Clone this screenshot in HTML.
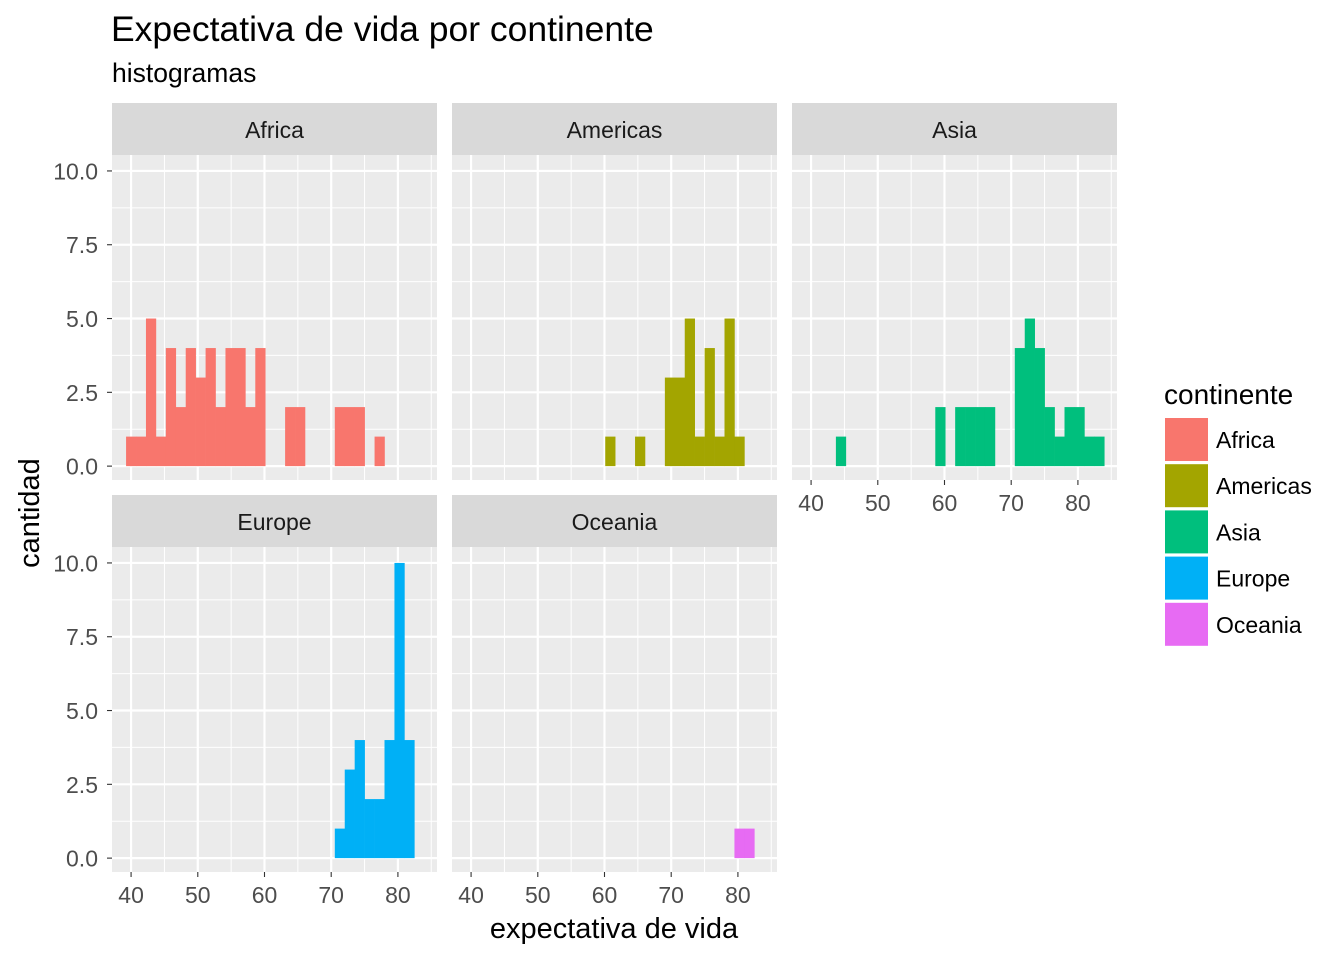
<!DOCTYPE html>
<html><head><meta charset="utf-8"><style>
body{margin:0;background:#fff;font-family:"Liberation Sans",sans-serif;}
svg text{font-family:"Liberation Sans",sans-serif;}
</style></head><body>
<svg id="chart" width="1344" height="960" xmlns="http://www.w3.org/2000/svg">
<text x="111" y="41" style="font-size:35.5px" fill="#000">Expectativa de vida por continente</text>
<text x="112" y="82" style="font-size:26.5px" fill="#000">histogramas</text>
<text x="614" y="938" style="font-size:29px" text-anchor="middle" fill="#000">expectativa de vida</text>
<text transform="translate(39,513) rotate(-90)" style="font-size:29px" text-anchor="middle" fill="#000">cantidad</text>
<g id="panels"></g>
<g id="legend"></g>
</svg>
<script>
const continents = ["Africa","Americas","Asia","Europe","Oceania"];
const colors = ["#F8766D","#A3A500","#00BF7D","#00B0F6","#E76BF3"];
const binStart = 39.25;
const binWidth = 1.49;
const africaCounts   = [1,1,5,1,4,2,4,3,4,2,4,4,2,4,0,0,2,2,0,0,0,2,2,2,0,1,0,0,0,0];
const americasCounts = [0,0,0,0,0,0,0,0,0,0,0,0,0,0,1,0,0,1,0,0,3,3,5,1,4,1,5,1,0,0];
const asiaCounts     = [0,0,0,1,0,0,0,0,0,0,0,0,0,2,0,2,2,2,2,0,0,4,5,4,2,1,2,2,1,1];
const europeCounts   = [0,0,0,0,0,0,0,0,0,0,0,0,0,0,0,0,0,0,0,0,0,1,3,4,2,2,4,10,4,0];
const oceaniaCounts  = [0,0,0,0,0,0,0,0,0,0,0,0,0,0,0,0,0,0,0,0,0,0,0,0,0,0,0,1,1,0];
const allCounts = [africaCounts,americasCounts,asiaCounts,europeCounts,oceaniaCounts];
const xTicks = [40,50,60,70,80];
const yTicks = [0,2.5,5,7.5,10];
const yTickLabels = ["0.0","2.5","5.0","7.5","10.0"];

const NS="http://www.w3.org/2000/svg";
function mk(tag,attrs,parent){const e=document.createElementNS(NS,tag);for(const k in attrs)e.setAttribute(k,attrs[k]);parent.appendChild(e);return e;}
const colX=[112,452,792], W=325, rowY=[103,495], stripH=52, plotH=325;
const xDom=[37.14,85.86], yDom=[-0.47,10.54];
function xs(v,px){return px+(v-xDom[0])/(xDom[1]-xDom[0])*W;}
function ys(v,py){return py+plotH-(v-yDom[0])/(yDom[1]-yDom[0])*plotH;}
const panels=document.getElementById('panels');
continents.forEach((c,i)=>{
  const px=colX[i%3], sy=rowY[Math.floor(i/3)], py=sy+stripH;
  const g=mk('g',{},panels);
  
  
  const strip=mk('rect',{x:px,y:sy,width:W,height:stripH,fill:'#D9D9D9'},g);
  
  
  const st=mk('text',{x:px+W/2,y:sy+35,style:'font-size:23px','text-anchor':'middle',fill:'#1A1A1A'},g);
  st.textContent=c;
  
  
  const bg=mk('rect',{x:px,y:py,width:W,height:plotH,fill:'#EBEBEB'},g);
  
  
  for(let v=45;v<=85;v+=10){mk('line',{x1:xs(v,px),x2:xs(v,px),y1:py,y2:py+plotH,stroke:'#fff','stroke-width':1},g);}
  for(let v=1.25;v<=10;v+=2.5){mk('line',{x1:px,x2:px+W,y1:ys(v,py),y2:ys(v,py),stroke:'#fff','stroke-width':1},g);}
  xTicks.forEach(v=>mk('line',{x1:xs(v,px),x2:xs(v,px),y1:py,y2:py+plotH,stroke:'#fff','stroke-width':2.2},g));
  yTicks.forEach(v=>mk('line',{x1:px,x2:px+W,y1:ys(v,py),y2:ys(v,py),stroke:'#fff','stroke-width':2.2},g));
  allCounts[i].forEach((n,b)=>{
    if(n<=0)return;
    const x0=xs(binStart+b*binWidth,px), x1=xs(binStart+(b+1)*binWidth,px);
    const r=mk('rect',{x:x0,y:ys(n,py),width:x1-x0+0.3,height:ys(0,py)-ys(n,py),fill:colors[i]},g);
    
    
  });
  if(i%3===0){
    yTicks.forEach((v,k)=>{
      mk('line',{x1:px-5,x2:px,y1:ys(v,py),y2:ys(v,py),stroke:'#333','stroke-width':1.1},g);
      const t=mk('text',{x:px-14,y:ys(v,py)+8.5,style:'font-size:23px','text-anchor':'end',fill:'#4D4D4D'},g);
      t.textContent=yTickLabels[k];
      
      
    });
  }
  if(i>=2){
    xTicks.forEach(v=>{
      mk('line',{x1:xs(v,px),x2:xs(v,px),y1:py+plotH,y2:py+plotH+5,stroke:'#333','stroke-width':1.1},g);
      const t=mk('text',{x:xs(v,px),y:py+plotH+31,style:'font-size:23px','text-anchor':'middle',fill:'#4D4D4D'},g);
      t.textContent=v;
      
      
    });
  }
});
const lg=document.getElementById('legend');
const lt=mk('text',{x:1164,y:404,style:'font-size:28px',fill:'#000'},lg);
lt.textContent='continente';


continents.forEach((c,i)=>{
  const y=418+i*46.2;
  const k=mk('rect',{x:1165,y:y,width:43,height:43,fill:colors[i]},lg);
  
  
  const t=mk('text',{x:1216,y:y+30,style:'font-size:23px',fill:'#000'},lg);
  t.textContent=c;
  
  
});
</script>
</body></html>
